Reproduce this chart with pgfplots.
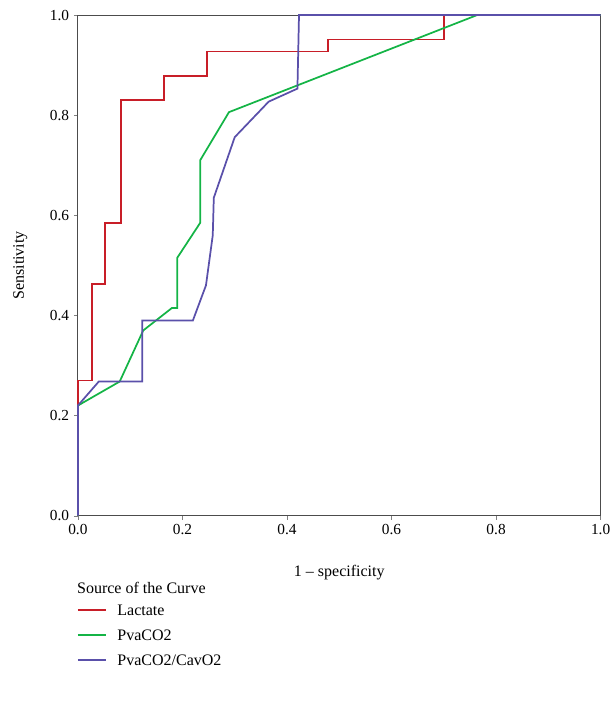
\documentclass[border=0pt]{standalone}
\usepackage{pgfplots}
\pgfplotsset{compat=1.18}
\usepackage{fontspec}
\setmainfont{Liberation Serif}
\definecolor{cred}{RGB}{200,30,40}
\definecolor{cgreen}{RGB}{20,180,70}
\definecolor{cblue}{RGB}{90,80,170}
\begin{document}
\begin{tikzpicture}
\begin{axis}[
  width=391.5pt, height=375pt, scale only axis,
  xmin=0, xmax=1, ymin=0, ymax=1,
  xtick={0,0.2,...,1}, ytick={0,0.2,...,1},
  /pgf/number format/assume math mode=true,
  xticklabel style={/pgf/number format/.cd,fixed,fixed zerofill,precision=1},
  yticklabel style={/pgf/number format/.cd,fixed,fixed zerofill,precision=1},
  tick label style={font=\fontsize{11.5}{13}\selectfont},
  label style={font=\fontsize{12}{14}\selectfont},
  xlabel={1 -- specificity}, ylabel={Sensitivity},
  xlabel style={yshift=-16pt}, ylabel style={yshift=10pt},
  tick align=outside, major tick length=3pt, tick pos=left,
  axis line style={black!70, line width=0.6pt},
  clip=false,
]
\addplot[cred, line width=1.3pt] coordinates {(0,0)(0,0.27)(0.027,0.27)(0.027,0.463)(0.052,0.463)(0.052,0.585)(0.082,0.585)(0.082,0.83)(0.165,0.83)(0.165,0.878)(0.247,0.878)(0.247,0.927)(0.479,0.927)(0.479,0.951)(0.70,0.951)(0.70,1)(1,1)};
\addplot[cgreen, line width=1.3pt] coordinates {(0,0)(0,0.22)(0.08,0.268)(0.125,0.37)(0.18,0.415)(0.19,0.415)(0.19,0.515)(0.234,0.585)(0.234,0.71)(0.289,0.806)(0.764,1)(1,1)};
\addplot[cblue, line width=1.3pt] coordinates {(0,0)(0,0.22)(0.04,0.268)(0.123,0.268)(0.123,0.39)(0.22,0.39)(0.245,0.46)(0.258,0.56)(0.26,0.635)(0.3,0.756)(0.365,0.827)(0.42,0.853)(0.423,1)(1,1)};
\begin{scope}[font=\fontsize{12}{14}\selectfont]
\node[anchor=west,inner sep=0] at (rel axis cs:-0.002,-0.144) {Source of the Curve};
\draw[cred,line width=1.1pt] (rel axis cs:0,-0.188)--(rel axis cs:0.054,-0.188);
\node[anchor=west,inner sep=0] at (rel axis cs:0.075,-0.188) {Lactate};
\draw[cgreen,line width=1.1pt] (rel axis cs:0,-0.238)--(rel axis cs:0.054,-0.238);
\node[anchor=west,inner sep=0] at (rel axis cs:0.075,-0.238) {PvaCO2};
\draw[cblue,line width=1.1pt] (rel axis cs:0,-0.288)--(rel axis cs:0.054,-0.288);
\node[anchor=west,inner sep=0] at (rel axis cs:0.075,-0.288) {PvaCO2/CavO2};
\path (rel axis cs:-0.149,-0.378) (rel axis cs:1.029,1.03);
\end{scope}
\end{axis}
\end{tikzpicture}
\end{document}
